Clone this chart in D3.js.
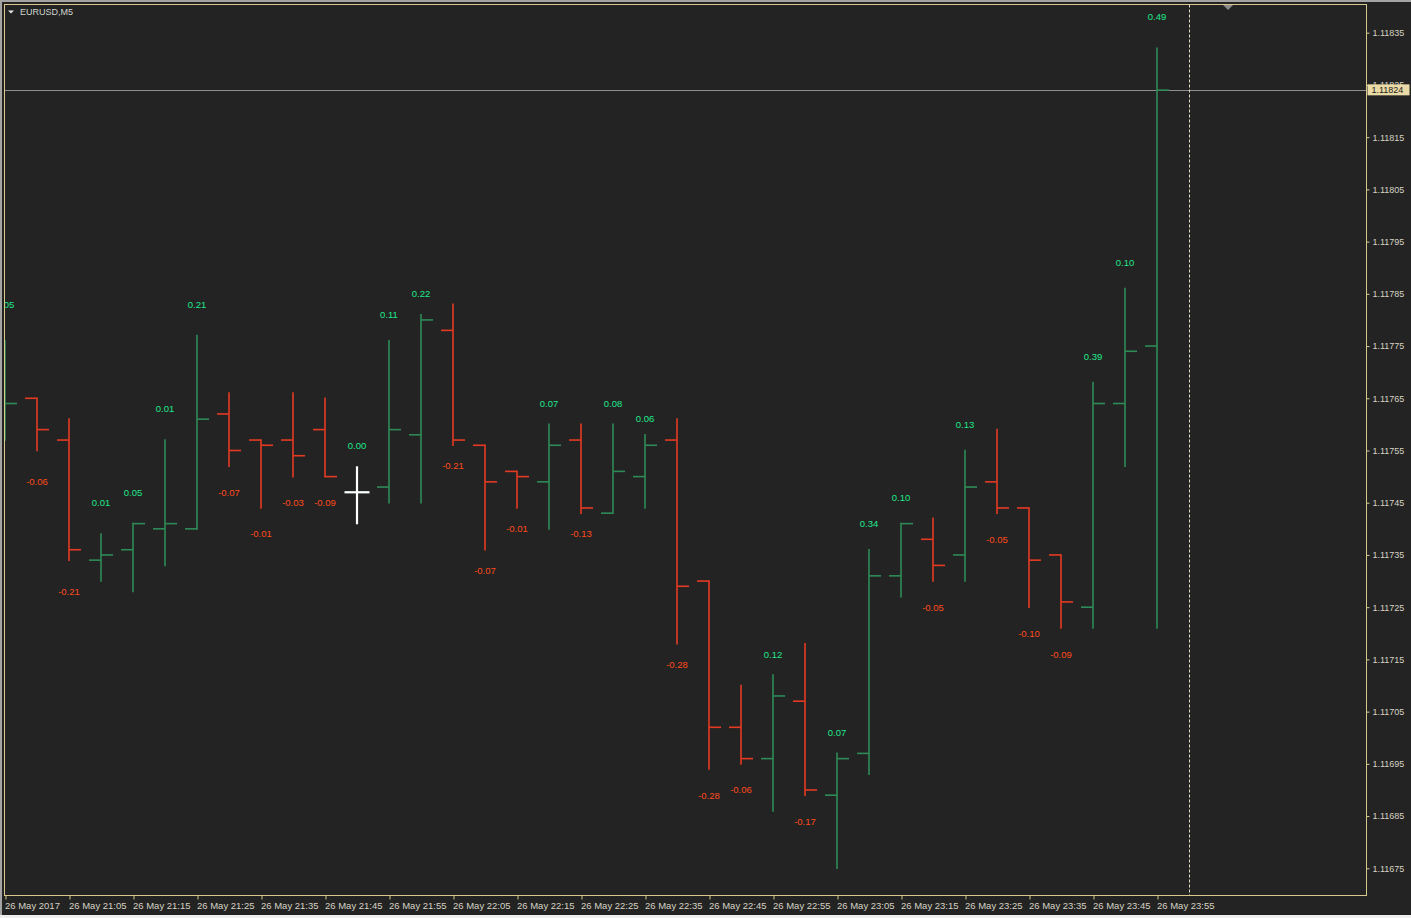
<!DOCTYPE html>
<html><head><meta charset="utf-8">
<script src="https://cdn.jsdelivr.net/npm/d3@7"></script>
<style>html,body{margin:0;padding:0;background:#232323;overflow:hidden}</style>
</head><body><svg id="c" width="1411" height="918"></svg>
<script>
// ---------- data ----------
const symbol = "EURUSD,M5";
const dayLabel = "26 May";
const firstLabel = "26 May 2017";
const times = ["20:55","21:00","21:05","21:10","21:15","21:20","21:25","21:30","21:35","21:40","21:45","21:50","21:55","22:00","22:05","22:10","22:15","22:20","22:25","22:30","22:35","22:40","22:45","22:50","22:55","23:00","23:05","23:10","23:15","23:20","23:25","23:30","23:35","23:40","23:45","23:50","23:55"];
const opens  = [1.11760,1.11765,1.11757,1.11734,1.11736,1.11740,1.11740,1.11762,1.11757,1.11757,1.11759,1.11747,1.11748,1.11758,1.11778,1.11756,1.11751,1.11749,1.11757,1.11743,1.11750,1.11757,1.11730,1.11702,1.11696,1.11707,1.11689,1.11697,1.11731,1.11738,1.11735,1.11749,1.11744,1.11735,1.11725,1.11764,1.11775];
const highs  = [1.11776,1.11765,1.11761,1.11739,1.11741,1.11757,1.11777,1.11766,1.11757,1.11766,1.11765,1.11750,1.11776,1.11781,1.11783,1.11756,1.11751,1.11760,1.11760,1.11760,1.11758,1.11761,1.11730,1.11710,1.11712,1.11718,1.11697,1.11736,1.11741,1.11742,1.11755,1.11759,1.11744,1.11735,1.11768,1.11786,1.11832];
const lows   = [1.11757,1.11755,1.11734,1.11730,1.11728,1.11733,1.11740,1.11752,1.11744,1.11750,1.11750,1.11746,1.11745,1.11745,1.11756,1.11736,1.11744,1.11740,1.11743,1.11743,1.11744,1.11718,1.11694,1.11695,1.11686,1.11689,1.11675,1.11693,1.11727,1.11730,1.11730,1.11743,1.11725,1.11721,1.11721,1.11752,1.11721];
const closes = [1.11764,1.11759,1.11736,1.11735,1.11741,1.11741,1.11761,1.11755,1.11756,1.11754,1.11750,1.11747,1.11759,1.11780,1.11757,1.11749,1.11750,1.11756,1.11744,1.11751,1.11756,1.11729,1.11702,1.11696,1.11708,1.11690,1.11696,1.11731,1.11741,1.11733,1.11748,1.11744,1.11734,1.11726,1.11764,1.11774,1.11824];
const labelValues = [0.05,-0.06,-0.21,0.01,0.05,0.01,0.21,-0.07,-0.01,-0.03,-0.09,0.00,0.11,0.22,-0.21,-0.07,-0.01,0.07,-0.13,0.08,0.06,-0.28,-0.28,-0.06,0.12,-0.17,0.07,0.34,0.10,-0.05,0.13,-0.05,-0.10,-0.09,0.39,0.10,0.49];
const labelLevels = [1.11783,1.11749,1.11728,1.11745,1.11747,1.11763,1.11783,1.11747,1.11739,1.11745,1.11745,1.11756,1.11781,1.11785,1.11752,1.11732,1.11740,1.11764,1.11739,1.11764,1.11761,1.11714,1.11689,1.11690,1.11716,1.11684,1.11701,1.11741,1.11746,1.11725,1.11760,1.11738,1.11720,1.11716,1.11773,1.11791,1.11838];
const priceTicks = [1.11675,1.11685,1.11695,1.11705,1.11715,1.11725,1.11735,1.11745,1.11755,1.11765,1.11775,1.11785,1.11795,1.11805,1.11815,1.11825,1.11835];
const currentPrice = 1.11824;
const shiftIndex = 37;      // chart-shift separator (one bar after last)
const cursorIndex = 11, cursorPrice = 1.11747;

// ---------- layout ----------
const W = 1411, H = 918;
const L = 4.5, T = 4.5, R = 1366.5, B = 895.5;
const frameCol = "#d8c88c", textCol = "#d6d2c2";
const upCol = "#2e8b57", dnCol = "#e53a22";
const upTxt = "#1fe88c", dnTxt = "#ff4a1c";
const font = "'Liberation Sans', Arial, sans-serif";

const svg = d3.select("#c");
const x = d3.scaleLinear().domain([0, 36]).range([5, 1157]);
const y = d3.scaleLinear().domain([1.11835, 1.11675]).range([32.7, 868.3]);

svg.append("rect").attr("width", W).attr("height", H).attr("fill", "#232323");
svg.append("rect").attr("x",0).attr("y",0).attr("width",W).attr("height",2).attr("fill","#a4a4a4");
svg.append("rect").attr("x",0).attr("y",0).attr("width",2).attr("height",H).attr("fill","#a4a4a4");
svg.append("rect").attr("x",0).attr("y",915).attr("width",W).attr("height",3).attr("fill","#efefef");

svg.append("defs").append("clipPath").attr("id","clip")
  .append("rect").attr("x", L + 0.5).attr("y", T + 0.5).attr("width", R - L - 1).attr("height", B - T - 1);

const plot = svg.append("g").attr("clip-path", "url(#clip)");

// current price line
plot.append("line").attr("x1", L).attr("x2", R)
  .attr("y1", Math.round(y(currentPrice)) + 0.5).attr("y2", Math.round(y(currentPrice)) + 0.5)
  .attr("stroke", "#8e8e8e").attr("stroke-width", 1);

// shift separator
plot.append("line").attr("x1", x(shiftIndex) + 0.5).attr("x2", x(shiftIndex) + 0.5)
  .attr("y1", T).attr("y2", B).attr("stroke", "#e6dcc4").attr("stroke-width", 1)
  .attr("stroke-dasharray", "3,2");

// bars
const bars = times.map((t, i) => ({ i, o: opens[i], h: highs[i], l: lows[i], c: closes[i],
  v: labelValues[i], lv: labelLevels[i] }));
const tick = 12, sw = 1.6;
const g = plot.selectAll("g.bar").data(bars).join("g").attr("class", "bar")
  .attr("stroke", d => d.c >= d.o ? upCol : dnCol).attr("stroke-width", sw);
g.append("line").attr("x1", d => x(d.i)).attr("x2", d => x(d.i))
  .attr("y1", d => y(d.h) - sw/2).attr("y2", d => y(d.l) + sw/2);
g.append("line").attr("x1", d => x(d.i) - tick).attr("x2", d => x(d.i))
  .attr("y1", d => y(d.o)).attr("y2", d => y(d.o));
g.append("line").attr("x1", d => x(d.i)).attr("x2", d => x(d.i) + tick)
  .attr("y1", d => y(d.c)).attr("y2", d => y(d.c));

// value labels
plot.selectAll("text.val").data(bars).join("text").attr("class", "val")
  .attr("x", d => x(d.i)).attr("y", d => y(d.lv)).attr("dy", "0.35em")
  .attr("text-anchor", "middle").attr("font-family", font).attr("font-size", "9.5px")
  .attr("fill", d => d.v >= 0 ? upTxt : dnTxt)
  .text(d => d.v.toFixed(2));

// crosshair cursor
const cx = x(cursorIndex), cy = y(cursorPrice);
plot.append("line").attr("x1", cx).attr("x2", cx).attr("y1", cy - 26).attr("y2", cy + 32)
  .attr("stroke", "#ffffff").attr("stroke-width", 2.2);
plot.append("line").attr("x1", cx - 12.5).attr("x2", cx + 12.5).attr("y1", cy).attr("y2", cy)
  .attr("stroke", "#ffffff").attr("stroke-width", 2.2);

// frame
svg.append("rect").attr("x", L).attr("y", T).attr("width", R - L).attr("height", B - T)
  .attr("fill", "none").attr("stroke", frameCol).attr("stroke-width", 1);

// shift marker triangle at top
const tx = x(shiftIndex + 1.22);
svg.append("path").attr("d", `M${tx-5},${T+0.5} L${tx+5},${T+0.5} L${tx},${T+5.5} Z`).attr("fill", "#8a8a8a");

// right price axis
const yAxis = d3.axisRight(y).tickValues(priceTicks).tickSize(3).tickPadding(3)
  .tickFormat(d3.format(".5f"));
const ya = svg.append("g").attr("transform", `translate(${R},0)`).call(yAxis);
ya.select(".domain").remove();
ya.selectAll("line").attr("stroke", frameCol);
ya.selectAll("text").attr("fill", textCol).attr("font-family", font).attr("font-size", "9px");

// bottom time axis
const xTickIdx = times.map((t, i) => i).filter(i => i % 2 === 0);
const xAxis = d3.axisBottom(x).tickValues(xTickIdx).tickSize(4).tickPadding(3)
  .tickFormat(i => i === 0 ? firstLabel : dayLabel + " " + times[i]);
const xa = svg.append("g").attr("transform", `translate(0.5,${B})`).call(xAxis);
xa.select(".domain").remove();
xa.selectAll("line").attr("stroke", frameCol);
xa.selectAll("text").attr("fill", textCol).attr("font-family", font).attr("font-size", "9.5px")
  .attr("text-anchor", "start").attr("x", -1);

// current price box
const py = y(currentPrice);
svg.append("rect").attr("x", R + 1).attr("y", py - 5.8).attr("width", 42).attr("height", 11)
  .attr("fill", "#eadba6");
svg.append("text").attr("x", R + 5).attr("y", py).attr("dy", "0.35em")
  .attr("font-family", font).attr("font-size", "9px").attr("fill", "#1a1a1a")
  .text(d3.format(".5f")(currentPrice));

// symbol title
svg.append("path").attr("d", "M8,10.5 L14,10.5 L11,13.5 Z").attr("fill", "#e8e8e8");
svg.append("text").attr("x", 20).attr("y", 12).attr("dy", "0.35em")
  .attr("font-family", font).attr("font-size", "9px").attr("fill", "#d2d6d0").text(symbol);
</script></body></html>
